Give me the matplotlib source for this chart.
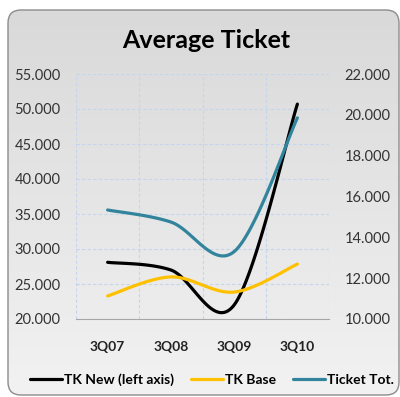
import numpy as np
import matplotlib
matplotlib.use("Agg")
import matplotlib.pyplot as plt
from matplotlib.patches import FancyBboxPatch
from matplotlib.ticker import FuncFormatter

plt.rcParams["font.family"] = ["Lato", "DejaVu Sans"]

# ── Data ──────────────────────────────────────────────────────────────────────
quarters   = ["3Q07", "3Q08", "3Q09", "3Q10"]
tk_new     = [28100, 27000, 22000, 50700]   # left axis
tk_base    = [11130, 12060, 11320, 12690]   # right axis
ticket_tot = [15340, 14750, 13300, 19850]   # right axis

W, H = 400, 397


def smooth(xs, ys, n=40):
    # Excel-style smoothed line: cubic Bezier with Catmull-Rom control points
    xs = np.asarray(xs, float); ys = np.asarray(ys, float)
    px = np.concatenate([[xs[0]], xs, [xs[-1]]])
    py = np.concatenate([[ys[0]], ys, [ys[-1]]])
    t = np.linspace(0, 1, n)[:, None]
    out_x, out_y = [], []
    for i in range(1, len(px) - 2):
        p0 = np.array([px[i], py[i]])
        p3 = np.array([px[i + 1], py[i + 1]])
        c1 = p0 + (np.array([px[i + 1], py[i + 1]]) - np.array([px[i - 1], py[i - 1]])) / 6
        c2 = p3 - (np.array([px[i + 2], py[i + 2]]) - np.array([px[i], py[i]])) / 6
        b = ((1 - t) ** 3) * p0 + 3 * ((1 - t) ** 2) * t * c1 + 3 * (1 - t) * t ** 2 * c2 + t ** 3 * p3
        out_x.append(b[:, 0]); out_y.append(b[:, 1])
    return np.concatenate(out_x), np.concatenate(out_y)


fig = plt.figure(figsize=(W / 100, H / 100), dpi=100, facecolor="white")

# ── Rounded frame with grey gradient ──────────────────────────────────────────
bg = fig.add_axes([0, 0, 1, 1])
bg.set_xlim(0, W); bg.set_ylim(H, 0); bg.axis("off")
frame = FancyBboxPatch((8, 10), 391, 385, boxstyle="round,pad=0,rounding_size=13",
                       facecolor="none", edgecolor="#8c8c8c", linewidth=1.0, zorder=3)
bg.add_patch(frame)
grad = np.linspace(0, 1, 256)[:, None]
img = bg.imshow(grad, extent=(8, 399, 395, 10), cmap=matplotlib.colors.LinearSegmentedColormap.from_list(
    "g", ["#d9d9d9", "#f2f2f2"]), aspect="auto", zorder=1)
img.set_clip_path(frame)
bg.set_xlim(0, W); bg.set_ylim(H, 0)

fig.text(206 / W, 1 - 40 / H, "Average Ticket", ha="center", va="center",
         fontsize=18, fontweight="bold", color="black")

# ── Main axes ─────────────────────────────────────────────────────────────────
ax = fig.add_axes([76 / W, 1 - 319 / H, (329 - 76) / W, (319 - 74) / H])
ax.patch.set_alpha(0)
ax2 = ax.twinx()

x = np.arange(len(quarters))
sx, sy = smooth(x, tk_new)
l1, = ax.plot(sx, sy, color="black", lw=2.3, solid_capstyle="round", zorder=4)
sx, sy = smooth(x, tk_base)
l2, = ax2.plot(sx, sy, color="#FFC000", lw=2.3, solid_capstyle="round")
sx, sy = smooth(x, ticket_tot)
l3, = ax2.plot(sx, sy, color="#31849B", lw=2.3, solid_capstyle="round")

ax.set_xlim(-0.5, len(quarters) - 0.5)
ax.set_ylim(20000, 55000)
ax.set_yticks(np.arange(20000, 55001, 5000))
ax2.set_ylim(10000, 22000)
ax2.set_yticks(np.arange(10000, 22001, 2000))

fmt = FuncFormatter(lambda v, p: f"{v:,.0f}".replace(",", "."))
ax.yaxis.set_major_formatter(fmt)
ax2.yaxis.set_major_formatter(fmt)

ax.set_xticks(x)
ax.set_xticklabels(quarters, fontweight="bold", fontsize=10)
ax.set_xticks(np.arange(-0.5, len(quarters)), minor=True)
ax.tick_params(axis="x", which="both", length=0, pad=16)
ax.tick_params(axis="y", length=0, pad=11, labelsize=10.5, colors="#333333")
ax2.tick_params(axis="y", length=0, pad=11, labelsize=10.5, colors="#333333")
for lab in ax.get_xticklabels():
    lab.set_color("#222222")

ax.grid(True, axis="y", which="major", color="#c5d5ee", ls=(0, (3, 2)), lw=0.8)
ax.grid(True, axis="x", which="minor", color="#c5d5ee", ls=(0, (3, 2)), lw=0.8)
ax.set_axisbelow(True)

for a in (ax, ax2):
    for s in ("left", "right", "top"):
        a.spines[s].set_visible(False)
    a.spines["bottom"].set_color("#a6a6a6")
ax2.spines["bottom"].set_visible(False)

fig.legend([l1, l2, l3], ["TK New (left axis)", "TK Base", "Ticket Tot."],
           loc="center", bbox_to_anchor=(212 / W, 1 - 380 / H), ncol=3,
           frameon=False, prop={"weight": "bold", "size": 10},
           handlelength=2.3, handletextpad=0.15, columnspacing=1.2)

fig.savefig("out.png", dpi=100, facecolor="white")
